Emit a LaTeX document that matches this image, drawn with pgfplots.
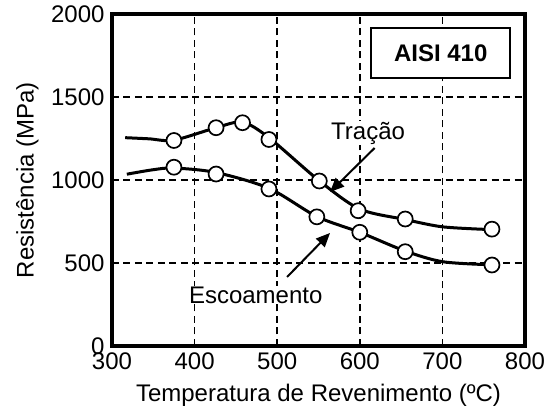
\documentclass[border=0pt]{standalone}
\usepackage{fontspec}
\setmainfont{Liberation Sans}
\usepackage{pgfplots}
\pgfplotsset{compat=1.18}
\usetikzlibrary{arrows.meta}

\newcommand{\bigfont}{\fontsize{24}{28}\selectfont}

\begin{document}
\begin{tikzpicture}
\begin{axis}[
    at={(0pt,0pt)}, anchor=south west,
    width=413pt, height=332pt,
    scale only axis,
    xmin=300, xmax=800,
    ymin=0, ymax=2000,
    xtick={300,400,...,800},
    ytick={0,500,...,2000},
    major tick length=0pt,
    axis line style={line width=4pt},
    grid=major,
    grid style={line width=1.7pt, dash pattern=on 7pt off 4.5pt, black},
    /pgf/number format/assume math mode=true,
    /pgf/number format/1000 sep={},
    tick label style={font=\bigfont},
    xticklabel style={yshift=-3pt},
    yticklabel style={xshift=-4pt},
    label style={font=\bigfont},
    xlabel={Temperatura de Revenimento (ºC)},
    ylabel={Resistência (MPa)},
    xlabel style={at={(axis description cs:0.5,-0.148)}, anchor=center},
    ylabel style={at={(axis description cs:-0.205,0.5)}, anchor=center},
    clip=false,
]

% smooth trend lines
\addplot[line width=3pt, smooth, no markers] coordinates {
    (316,1255)(345,1248)(375,1240)(426,1315)(458,1348)(490,1255)
    (551,995)(600,825)(655,762)(700,718)(755,702)
};
\addplot[line width=3pt, smooth, no markers] coordinates {
    (318,1035)(350,1062)(375,1072)(426,1045)(490,950)(548,780)
    (600,685)(655,572)(700,508)(755,490)
};

% data points: Tracao
\addplot[only marks, mark=*, mark size=7.5pt,
    mark options={fill=white, draw=black, line width=1.7pt}] coordinates {
    (375,1238)(426,1315)(458,1345)(490,1244)(551,994)(598,815)(655,765)(760,704)
};
% data points: Escoamento
\addplot[only marks, mark=*, mark size=7.5pt,
    mark options={fill=white, draw=black, line width=1.7pt}] coordinates {
    (375,1077)(426,1036)(490,946)(548,778)(600,685)(655,568)(760,488)
};

\node[font=\bigfont, fill=white, inner sep=1pt] at (axis cs:610,1283) {Tração};
\node[font=\bigfont, fill=white, inner sep=1pt] at (axis cs:474,307) {Escoamento};
\draw[line width=2pt, -{Triangle[length=14pt, width=12pt]}]
    (axis cs:618,1193) -- (axis cs:564,928);
\draw[line width=2pt, -{Triangle[length=14pt, width=12pt]}]
    (axis cs:512,416) -- (axis cs:564,681);

\node[draw, line width=1.6pt, fill=white, font=\bigfont\bfseries,
    minimum width=139pt, minimum height=50pt] at (axis cs:698,1765) {AISI 410};
\end{axis}
\pgfresetboundingbox
\path[use as bounding box] (-112pt,-68pt) rectangle (442pt,346pt);
\end{tikzpicture}
\end{document}
